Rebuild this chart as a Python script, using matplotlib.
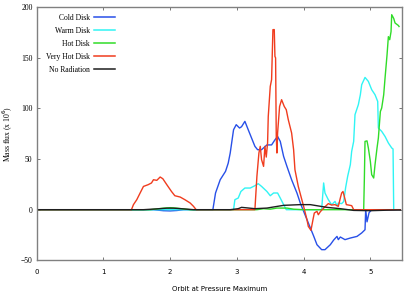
import matplotlib
matplotlib.use('Agg')
import matplotlib.pyplot as plt

# Cold Disk
cold_x = [0, 1.75, 1.9, 2.0, 2.1, 2.2, 2.64, 2.68, 2.75, 2.83, 2.87, 2.90, 2.95, 2.99, 3.04, 3.07,
          3.12, 3.17, 3.22, 3.27, 3.31, 3.37, 3.45, 3.52, 3.57, 3.61, 3.65, 3.70, 3.75, 3.82, 3.90,
          3.95, 4.00, 4.07, 4.15, 4.20, 4.27, 4.32, 4.40, 4.45, 4.50, 4.52, 4.55, 4.62, 4.70, 4.80,
          4.87, 4.92, 4.93, 4.95, 4.98, 5.02, 5.45]
cold_y = [0, 0, -1, -1.2, -0.8, 0, 0, 16.5, 29.6, 37.9, 46, 56, 79, 84, 80.7, 82,
          87.3, 79, 70.8, 62.6, 59.3, 59.3, 64, 64, 69, 72.4, 67.5, 52.7, 42.8, 29.6, 16.5,
          6.6, -1.6, -13, -26, -34.6, -39.5, -39.5, -34.6, -30, -26.4, -29.6, -27, -29.6, -28, -26.4,
          -23, -19.8, 0, -12, -3, 0, 0]

# Warm Disk
warm_x = [0, 2.95, 2.97, 3.02, 3.06, 3.12, 3.20, 3.27, 3.32, 3.37, 3.45, 3.50, 3.55, 3.61, 3.65,
          3.70, 3.74, 4.27, 4.30, 4.32, 4.37, 4.42, 4.47, 4.50, 4.52, 4.57, 4.60, 4.63, 4.66, 4.70,
          4.72, 4.75, 4.77, 4.82, 4.85, 4.87, 4.92, 4.97, 5.02, 5.07, 5.11, 5.12, 5.17, 5.22, 5.27,
          5.32, 5.34, 5.35, 5.45]
warm_y = [0, 0, 9.9, 11.5, 18, 21.4, 21.4, 23.7, 25.7, 23, 18, 13.8, 16.5, 16.5, 11.5,
          5, 0, 0, 26.4, 16.5, 9.9, 4.9, 8.2, 4, 6.6, 6, 8, 22, 33, 44.5,
          57.6, 67.5, 93.9, 103.8, 113.6, 123.5, 130.7, 126.8, 118.6, 113.6, 107, 80.7, 77.4, 72.4, 65.9,
          61, 60, 0, 0]

# Hot Disk
hot_x = [0, 1.7, 1.9, 2.0, 2.1, 2.3, 3.3, 3.4, 3.5, 3.6, 3.75, 3.85, 4.0, 4.9, 4.91, 4.92, 4.95,
         4.97, 5.0, 5.02, 5.05, 5.07, 5.10, 5.12, 5.15, 5.17, 5.20, 5.22, 5.25, 5.27, 5.29, 5.31,
         5.32, 5.35, 5.37, 5.42, 5.43]
hot_y = [0, 0, 1.5, 2, 1.5, 0, 0, 1, 0.5, 1.6, 1.6, 0.5, 0, 0, 30, 67.5, 68,
         61, 47.7, 34.6, 31.3, 44.5, 61, 70.8, 97, 100.5, 113.6, 130, 153, 171, 168, 176,
         192.7, 189, 184.5, 182, 181]

# Very Hot Disk
vhot_x = [0, 1.42, 1.45, 1.5, 1.55, 1.6, 1.67, 1.72, 1.75, 1.8, 1.85, 1.89, 1.95, 2.02, 2.07,
          2.15, 2.22, 2.30, 2.35, 2.39, 3.27, 3.30, 3.33, 3.35, 3.37, 3.40, 3.42, 3.44, 3.46, 3.47,
          3.50, 3.52, 3.54, 3.56, 3.57, 3.58, 3.59, 3.60, 3.61, 3.64, 3.67, 3.71, 3.74, 3.77, 3.82,
          3.85, 3.87, 3.92, 4.00, 4.05, 4.07, 4.11, 4.14, 4.16, 4.20, 4.22, 4.25, 4.30, 4.37, 4.42,
          4.47, 4.52, 4.55, 4.57, 4.59, 4.61, 4.64, 4.72, 4.75, 5.45]
vhot_y = [0, 0, 5, 9.9, 16.5, 23, 24.7, 26.4, 29.6, 29, 32.3, 30.6, 24.7, 18, 13.8,
          12.5, 9.9, 6.6, 3.3, 0, 0, 33, 56, 62.6, 49.4, 42.8, 62.6, 52, 66, 92,
          121.8, 128.5, 177.9, 178, 151.5, 150, 72.4, 56, 75.8, 102, 108.7, 102, 98.8, 89, 75.8,
          59.3, 39.5, 23, 3.3, -9.9, -16.5, -20.4, -9.9, -3.3, -1.6, -5, -2, 1.6, 6, 4.6,
          5, 3.3, 11.5, 16.5, 18, 13, 5, 4, 0, 0]

# No Radiation
norad_x = [0, 1.6, 1.8, 1.95, 2.05, 2.2, 2.35, 2.9, 3.02, 3.07, 3.15, 3.27, 3.45, 3.7, 3.95,
           4.1, 4.35, 4.55, 4.75, 5.0, 5.25, 5.45]
norad_y = [0, 0, 0.8, 1.5, 1.5, 0.8, 0, 0, 1, 2.3, 1.8, 1, 1.6, 4.3, 5,
           5, 2.3, 1, -0.7, -1, -0.5, -0.3]

serif = 'Liberation Serif'
sans = 'DejaVu Sans'

fig = plt.figure(figsize=(4.15, 2.92), dpi=100)
ax = fig.add_axes([0.0884, 0.1086, 0.8796, 0.8664])

lw = 1.0
ax.plot(cold_x, cold_y, color='#2850e8', lw=lw, label='Cold Disk')
ax.plot(warm_x, warm_y, color='#30f4f4', lw=lw, label='Warm Disk')
ax.plot(hot_x, hot_y, color='#30dc28', lw=lw, label='Hot Disk')
ax.plot(vhot_x, vhot_y, color='#f03c1e', lw=lw, label='Very Hot Disk')
ax.plot(norad_x, norad_y, color='#1e1e1e', lw=lw, label='No Radiation')

ax.set_xlim(0, 5.47)
ax.set_ylim(-50, 200)
ax.set_xticks([0, 1, 2, 3, 4, 5])
ax.set_yticks([-50, 0, 50, 100, 150, 200])

for s in ax.spines.values():
    s.set_color('#808080')
    s.set_linewidth(1.0)

ax.tick_params(direction='in', top=True, right=True, length=2.5, width=0.6, color='#606060')
ax.tick_params(axis='x', pad=6, labelsize=5)
ax.tick_params(axis='y', pad=3, labelsize=5.5)
for t in ax.get_xticklabels():
    t.set_family(sans)
for t in ax.get_yticklabels():
    t.set_family(serif)

ax.set_xlabel('Orbit at Pressure Maximum', fontsize=5, family=sans, labelpad=8)
ax.set_ylabel('Mass flux (x 10$^6$)', fontsize=5.5, family=serif, labelpad=4)

leg = ax.legend(loc='upper right', bbox_to_anchor=(0.225, 0.99), frameon=False,
                markerfirst=False, handlelength=2.7, handletextpad=0.6,
                labelspacing=0.65, borderpad=0, prop={'family': serif, 'size': 5.5})
for line in leg.get_lines():
    line.set_linewidth(1.1)

fig.savefig('out.png', dpi=100)
